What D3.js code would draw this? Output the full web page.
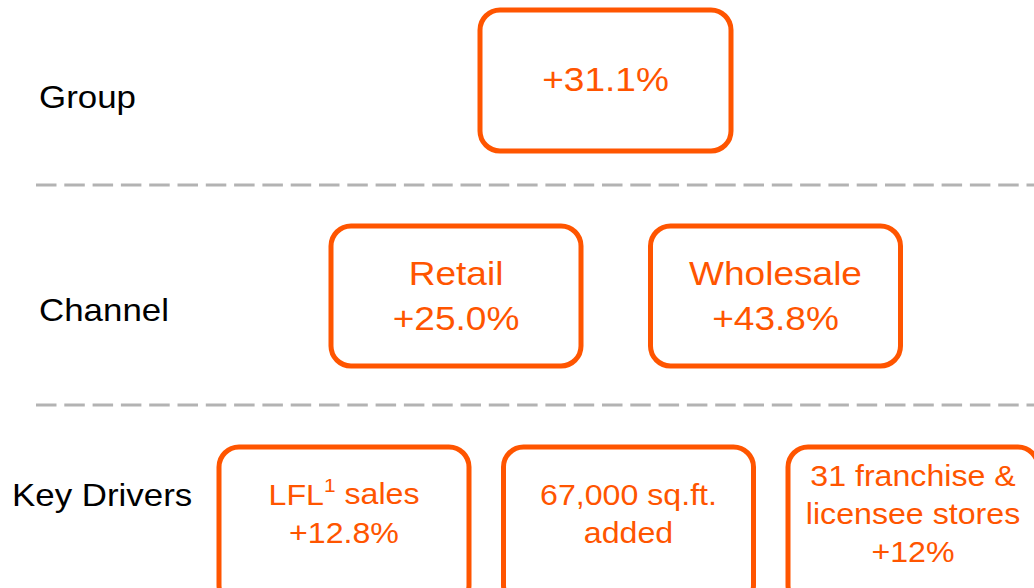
<!DOCTYPE html>
<html><head><meta charset="utf-8">
<script src="https://cdn.jsdelivr.net/npm/d3@7"></script>
<style>html,body{margin:0;padding:0;background:#fff;}svg{display:block;}</style>
</head><body>
<script>
// ---- data ----
const rowLabels = ["Group", "Channel", "Key Drivers"];
const groupItems = [["+31.1%"]];
const channelItems = [["Retail", "+25.0%"], ["Wholesale", "+43.8%"]];
const driverItems = [["LFL{1} sales", "+12.8%"], ["67,000 sq.ft.", "added"], ["31 franchise &", "licensee stores", "+12%"]];

const W = 1034, H = 588;
const orange = "#FF5500";
const SX = 1.09; // horizontal glyph stretch seen in the reference
const svg = d3.select("body").append("svg").attr("width", W).attr("height", H)
  .style("font-family", "'Liberation Sans', Arial, sans-serif");

const rowCfg = {
  "Group":      {items: groupItems,   xr: [605.5, 605.5], w: 251, top: 10,  bot: 151, fs: 34, lh: 45, labelX: 39, labelY: 97,  midY: 79},
  "Channel":    {items: channelItems, xr: [456, 775.5],   w: 250, top: 226, bot: 366, fs: 34, lh: 45, labelX: 39, labelY: 310, midY: 296},
  "Key Drivers":{items: driverItems,  xr: [344, 913],     w: 250, top: 447, bot: 605, fs: 29.5, lh: 38, labelX: 12, labelY: 495, midY: 514}
};

// row labels
svg.selectAll("text.row").data(rowLabels).join("text")
  .attr("class", "row")
  .attr("transform", d => `translate(${rowCfg[d].labelX},${rowCfg[d].labelY}) scale(${SX},1)`)
  .attr("dy", "0.35em")
  .attr("font-size", 32)
  .attr("fill", "#000")
  .text(d => d);

// dashed separators between rows
const sepY = [185, 405];
svg.selectAll("line.sep").data(sepY).join("line")
  .attr("x1", 36).attr("x2", W + 10)
  .attr("y1", d => d).attr("y2", d => d)
  .attr("stroke", "#b3b3b3").attr("stroke-width", 3)
  .attr("stroke-dasharray", "20.5 7.8");

// boxes
rowLabels.forEach(r => {
  const c = rowCfg[r];
  const x = d3.scalePoint().domain(d3.range(c.items.length)).range(c.xr);
  if (c.items.length === 1) x.range([c.xr[0], c.xr[0]]);
  const g = svg.append("g");
  const boxes = g.selectAll("g.box").data(c.items).join("g").attr("class", "box");
  boxes.append("rect")
    .attr("x", (d, i) => x(i) - c.w / 2)
    .attr("y", c.top)
    .attr("width", c.w)
    .attr("height", c.bot - c.top)
    .attr("rx", 20).attr("ry", 20)
    .attr("fill", "#fff")
    .attr("stroke", orange).attr("stroke-width", 5);
  boxes.each(function(lines, i) {
    const n = lines.length;
    lines.forEach((ln, k) => {
      const t = d3.select(this).append("text")
        .attr("transform", `translate(${x(i)},${c.midY + (k - (n - 1) / 2) * c.lh}) scale(${SX},1)`)
        .attr("dy", "0.35em")
        .attr("text-anchor", "middle")
        .attr("font-size", c.fs)
        .attr("fill", orange);
      const m = ln.match(/^(.*)\{(.*)\}(.*)$/);
      if (m) {
        t.append("tspan").text(m[1]);
        t.append("tspan").attr("font-size", c.fs * 0.65).attr("dy", "-0.7em").text(m[2]);
        t.append("tspan").attr("dy", "0.4em").text(m[3]);
      } else t.text(ln);
    });
  });
});
</script>
</body></html>
